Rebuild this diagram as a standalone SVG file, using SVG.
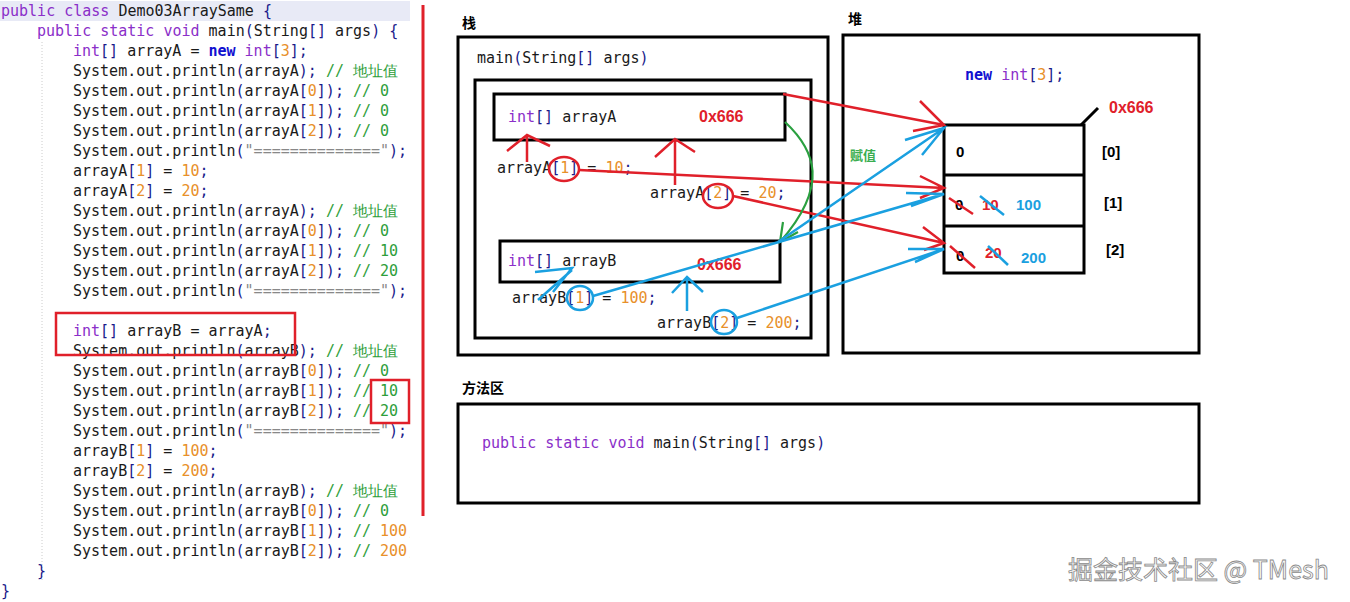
<svg xmlns="http://www.w3.org/2000/svg" width="1350" height="602" viewBox="0 0 1350 602">
<style>
.c{font-family:"DejaVu Sans Mono","Liberation Mono",monospace;font-size:15px;fill:#1a1a1a;white-space:pre}
.k{fill:#8b2fc9}.b{fill:#1a1a8a}.n{fill:#e8902a}.g{fill:#2e9e3a}.s{fill:#888}.nw{fill:#1010d0;font-weight:bold}
.box{fill:none;stroke:#000;stroke-width:3}
.lb{font-family:"Noto Sans CJK SC","Liberation Sans",sans-serif;font-weight:bold;font-size:14px;fill:#000}
.v{font-family:"Liberation Sans",sans-serif;font-weight:bold;font-size:15px}
.h{font-family:"Liberation Sans",sans-serif;font-weight:bold;font-size:16px;fill:#e0202a}
.r{stroke:#e0202a;stroke-width:2.5;fill:none}
.bl{stroke:#1aa0e0;stroke-width:2.5;fill:none}
</style>
<rect width="1350" height="602" fill="#fff"/>
<g id="code">
<rect x="0" y="1" width="410" height="20" fill="#e8eaf6"/>
<line x1="42" y1="42" x2="42" y2="580" stroke="#ccc" stroke-dasharray="1,2"/>
<svg x="0" y="0" width="410" height="602">
<text class="c" x="1" y="16"><tspan class="k">public class</tspan> Demo03ArraySame <tspan class="b">{</tspan></text>
<text class="c" x="37" y="36"><tspan class="k">public static void</tspan> main<tspan class="b">(</tspan>String<tspan class="b">[]</tspan> args<tspan class="b">) {</tspan></text>
<text class="c" x="73" y="56"><tspan class="k">int</tspan><tspan class="b">[]</tspan> arrayA = <tspan class="nw">new</tspan> <tspan class="k">int</tspan><tspan class="b">[</tspan><tspan class="n">3</tspan><tspan class="b">];</tspan></text>
<text class="c" x="73" y="76">System.out.println<tspan class="b">(</tspan>arrayA<tspan class="b">);</tspan> <tspan class="g">// 地址值</tspan></text>
<text class="c" x="73" y="96">System.out.println<tspan class="b">(</tspan>arrayA<tspan class="b">[</tspan><tspan class="n">0</tspan><tspan class="b">]);</tspan> <tspan class="g">// 0</tspan></text>
<text class="c" x="73" y="116">System.out.println<tspan class="b">(</tspan>arrayA<tspan class="b">[</tspan><tspan class="n">1</tspan><tspan class="b">]);</tspan> <tspan class="g">// 0</tspan></text>
<text class="c" x="73" y="136">System.out.println<tspan class="b">(</tspan>arrayA<tspan class="b">[</tspan><tspan class="n">2</tspan><tspan class="b">]);</tspan> <tspan class="g">// 0</tspan></text>
<text class="c" x="73" y="156">System.out.println<tspan class="b">(</tspan><tspan class="s">"=============="</tspan><tspan class="b">);</tspan></text>
<text class="c" x="73" y="176">arrayA<tspan class="b">[</tspan><tspan class="n">1</tspan><tspan class="b">]</tspan> = <tspan class="n">10</tspan><tspan class="b">;</tspan></text>
<text class="c" x="73" y="196">arrayA<tspan class="b">[</tspan><tspan class="n">2</tspan><tspan class="b">]</tspan> = <tspan class="n">20</tspan><tspan class="b">;</tspan></text>
<text class="c" x="73" y="216">System.out.println<tspan class="b">(</tspan>arrayA<tspan class="b">);</tspan> <tspan class="g">// 地址值</tspan></text>
<text class="c" x="73" y="236">System.out.println<tspan class="b">(</tspan>arrayA<tspan class="b">[</tspan><tspan class="n">0</tspan><tspan class="b">]);</tspan> <tspan class="g">// 0</tspan></text>
<text class="c" x="73" y="256">System.out.println<tspan class="b">(</tspan>arrayA<tspan class="b">[</tspan><tspan class="n">1</tspan><tspan class="b">]);</tspan> <tspan class="g">// 10</tspan></text>
<text class="c" x="73" y="276">System.out.println<tspan class="b">(</tspan>arrayA<tspan class="b">[</tspan><tspan class="n">2</tspan><tspan class="b">]);</tspan> <tspan class="g">// 20</tspan></text>
<text class="c" x="73" y="296">System.out.println<tspan class="b">(</tspan><tspan class="s">"=============="</tspan><tspan class="b">);</tspan></text>
<text class="c" x="73" y="336"><tspan class="k">int</tspan><tspan class="b">[]</tspan> arrayB = arrayA<tspan class="b">;</tspan></text>
<text class="c" x="73" y="356">System.out.println<tspan class="b">(</tspan>arrayB<tspan class="b">);</tspan> <tspan class="g">// 地址值</tspan></text>
<text class="c" x="73" y="376">System.out.println<tspan class="b">(</tspan>arrayB<tspan class="b">[</tspan><tspan class="n">0</tspan><tspan class="b">]);</tspan> <tspan class="g">// 0</tspan></text>
<text class="c" x="73" y="396">System.out.println<tspan class="b">(</tspan>arrayB<tspan class="b">[</tspan><tspan class="n">1</tspan><tspan class="b">]);</tspan> <tspan class="g">// 10</tspan></text>
<text class="c" x="73" y="416">System.out.println<tspan class="b">(</tspan>arrayB<tspan class="b">[</tspan><tspan class="n">2</tspan><tspan class="b">]);</tspan> <tspan class="g">// 20</tspan></text>
<text class="c" x="73" y="436">System.out.println<tspan class="b">(</tspan><tspan class="s">"=============="</tspan><tspan class="b">);</tspan></text>
<text class="c" x="73" y="456">arrayB<tspan class="b">[</tspan><tspan class="n">1</tspan><tspan class="b">]</tspan> = <tspan class="n">100</tspan><tspan class="b">;</tspan></text>
<text class="c" x="73" y="476">arrayB<tspan class="b">[</tspan><tspan class="n">2</tspan><tspan class="b">]</tspan> = <tspan class="n">200</tspan><tspan class="b">;</tspan></text>
<text class="c" x="73" y="496">System.out.println<tspan class="b">(</tspan>arrayB<tspan class="b">);</tspan> <tspan class="g">// 地址值</tspan></text>
<text class="c" x="73" y="516">System.out.println<tspan class="b">(</tspan>arrayB<tspan class="b">[</tspan><tspan class="n">0</tspan><tspan class="b">]);</tspan> <tspan class="g">// 0</tspan></text>
<text class="c" x="73" y="536">System.out.println<tspan class="b">(</tspan>arrayB<tspan class="b">[</tspan><tspan class="n">1</tspan><tspan class="b">]);</tspan> <tspan class="g">// </tspan><tspan class="n">100;</tspan></text>
<text class="c" x="73" y="556">System.out.println<tspan class="b">(</tspan>arrayB<tspan class="b">[</tspan><tspan class="n">2</tspan><tspan class="b">]);</tspan> <tspan class="g">// </tspan><tspan class="n">200;</tspan></text>
<text class="c b" x="37" y="576">}</text>
<text class="c b" x="1" y="596">}</text>
</svg>
<rect x="56" y="313" width="239" height="42" fill="none" stroke="#e0202a" stroke-width="2.5"/>
<rect x="371" y="380" width="38" height="43" fill="none" stroke="#e0202a" stroke-width="2.5"/>
<line x1="423" y1="5" x2="423" y2="516" stroke="#e0202a" stroke-width="3"/>
</g>
<g id="stack">
<text class="lb" x="462" y="28">栈</text>
<rect class="box" x="458" y="37" width="370" height="318"/>
<text class="c" x="477" y="63">main<tspan class="b">(</tspan>String<tspan class="b">[]</tspan> args<tspan class="b">)</tspan></text>
<rect class="box" x="475" y="80" width="336" height="258"/>
</g>
<g id="arrayA">
<rect class="box" x="494" y="94" width="291" height="46"/>
<text class="c" x="508" y="122"><tspan class="k">int</tspan><tspan class="b">[]</tspan> arrayA</text>
<text class="h" x="699" y="122">0x666</text>
</g>
<g id="arrayB">
<rect class="box" x="500" y="241" width="280" height="41"/>
<text class="c" x="508" y="266"><tspan class="k">int</tspan><tspan class="b">[]</tspan> arrayB</text>
<text class="h" x="697" y="270">0x666</text>
</g>
<g id="stmts">
<text class="c" x="497" y="173">arrayA<tspan class="b">[</tspan><tspan class="n">1</tspan><tspan class="b">]</tspan> = <tspan class="n">10</tspan><tspan class="b">;</tspan></text>
<text class="c" x="650" y="198">arrayA<tspan class="b">[</tspan><tspan class="n">2</tspan><tspan class="b">]</tspan> = <tspan class="n">20</tspan><tspan class="b">;</tspan></text>
<text class="c" x="512" y="303">arrayB<tspan class="b">[</tspan><tspan class="n">1</tspan><tspan class="b">]</tspan> = <tspan class="n">100</tspan><tspan class="b">;</tspan></text>
<text class="c" x="657" y="328">arrayB<tspan class="b">[</tspan><tspan class="n">2</tspan><tspan class="b">]</tspan> = <tspan class="n">200</tspan><tspan class="b">;</tspan></text>
</g>
<g id="heap">
<text class="lb" x="848" y="24">堆</text>
<rect class="box" x="843" y="35" width="356" height="318"/>
<text class="c" x="965" y="80"><tspan class="nw">new</tspan> <tspan class="k">int</tspan><tspan class="b">[</tspan><tspan class="n">3</tspan><tspan class="b">];</tspan></text>
<text class="h" x="1109" y="113">0x666</text>
<line x1="1081" y1="125" x2="1098" y2="108" stroke="#000" stroke-width="3"/>
<rect class="box" x="944" y="125" width="140" height="148"/>
<line x1="944" y1="175" x2="1084" y2="175" stroke="#000" stroke-width="3"/>
<line x1="944" y1="226" x2="1084" y2="226" stroke="#000" stroke-width="3"/>
<text class="v" x="956" y="157" fill="#000">0</text>
<text class="v" x="1102" y="157" fill="#000">[0]</text>
<text class="v" x="1104" y="208" fill="#000">[1]</text>
<text class="v" x="1106" y="255" fill="#000">[2]</text>
<text class="v" x="955" y="210" fill="#000">0</text>
<text class="v" x="982" y="210" fill="#e0202a">10</text>
<text class="v" x="1016" y="210" fill="#1aa0e0">100</text>
<text class="v" x="956" y="261" fill="#000">0</text>
<text class="v" x="985" y="258" fill="#e0202a">20</text>
<text class="v" x="1021" y="263" fill="#1aa0e0">200</text>
<line class="r" x1="949" y1="198" x2="973" y2="214"/>
<line class="bl" x1="980" y1="196" x2="1004" y2="215"/>
<line class="r" x1="950" y1="246" x2="975" y2="268"/>
<line class="bl" x1="988" y1="246" x2="1008" y2="265"/>
<text x="850" y="160" font-family="Noto Sans CJK SC,sans-serif" font-size="13" font-weight="bold" fill="#3aae50">赋值</text>
</g>
<g id="method">
<text class="lb" x="462" y="393">方法区</text>
<rect class="box" x="458" y="404" width="741" height="99"/>
<text class="c" x="482" y="448"><tspan class="k">public static void</tspan> main<tspan class="b">(</tspan>String<tspan class="b">[]</tspan> args<tspan class="b">)</tspan></text>
</g>
<g id="connectors">
<path class="r" d="M783 94 L944 125 M920 101 L944 125 L913 131"/>
<ellipse class="r" cx="564" cy="169" rx="15" ry="12"/>
<path class="r" d="M579 170 L944 188 M920 176 L944 188 L920 198"/>
<ellipse class="r" cx="718" cy="196" rx="15" ry="12"/>
<path class="r" d="M733 196 L944 243 M923 227 L944 243 L924 250"/>
<path class="r" d="M527 162 L527 135 M507 151 L527 135 L550 146"/>
<path class="r" d="M675 185 L675 139 M655 157 L675 139 L695 152"/>
<path d="M785 122 C815 150 830 185 780 242 M783 222 L780 242 L798 232" stroke="#2aa040" stroke-width="2.2" fill="none"/>
<path class="bl" d="M778 242 L944 128 M905 140 L944 128 L922 155"/>
<ellipse class="bl" cx="580" cy="298" rx="13" ry="12"/>
<path class="bl" d="M593 296 L944 194 M906 193 L944 194 L911 206"/>
<ellipse class="bl" cx="724" cy="322" rx="13" ry="12"/>
<path class="bl" d="M737 318 L944 249 M908 249 L944 249 L915 262"/>
<path class="bl" d="M538 300 L572 270 M535 272 L572 268 L553 292"/>
<path class="bl" d="M687 311 L687 277 M672 293 L687 277 L703 292"/>
</g>
<text x="1068" y="579" font-family="Noto Sans CJK SC,sans-serif" font-size="25" fill="#fafafa" stroke="#8a8a8a" stroke-width="0.8">掘金技术社区 @ TMesh</text>
</svg>
